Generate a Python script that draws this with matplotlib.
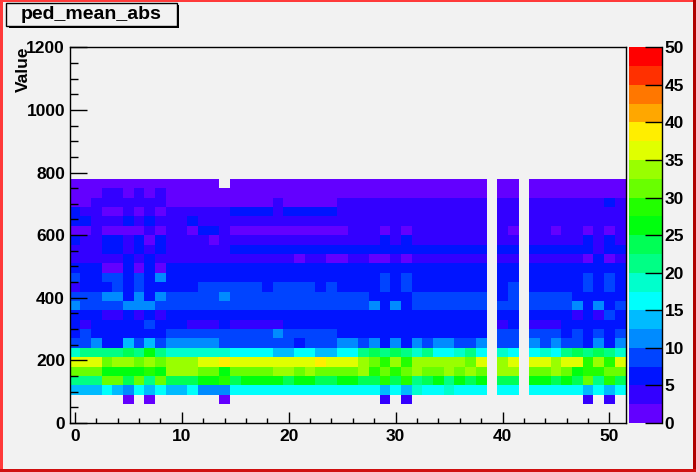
"""
ped_mean_abs: 2D histogram of value vs channel, drawn as a ROOT style COLZ plot
"""

import colorsys
import numpy as np
import matplotlib
matplotlib.use('Agg')
import matplotlib.pyplot as plt
from matplotlib.colors import ListedColormap, BoundaryNorm
from matplotlib.patches import Rectangle
from matplotlib.ticker import MultipleLocator

n = np.nan

# Bins: 52 channels (centred on 0..51), value bins of 30 from 0 to 1200
X_Edges = np.arange(-0.5, 52.0, 1.0)
Y_Edges = np.arange(0, 1230, 30)
Z_Levels = np.arange(0, 52.5, 2.5)

# Lower edge of each filled value row, top row first
Row_Low = list(range(750, 30, -30))

# Cell contents (one list per value row, channels 0..51)
Rows = [
	[1,1,1,1,1,1,1,1,1,1, 1,1,1,1,n,1,1,1,1,1, 1,1,1,1,1,1,1,1,1,1, 1,1,1,1,1,1,1,1,1,n, 1,1,n,1,1,1,1,1,1,1, 1,1],
	[1,1,1,4,4,1,4,1,4,1, 1,1,1,1,1,1,1,1,1,1, 1,1,1,1,1,1,1,1,1,1, 1,1,1,1,1,1,1,1,1,n, 1,1,n,1,1,1,1,1,1,1, 1,1],
	[1,1,4,4,4,4,4,4,4,1, 1,1,1,1,1,1,1,1,1,4, 1,1,1,1,1,4,4,4,4,4, 4,4,4,4,4,4,4,4,4,n, 4,4,n,4,4,4,4,4,4,4, 6,4],
	[6,4,4,1,1,4,1,4,1,4, 4,4,4,4,4,6,6,6,6,4, 6,6,6,6,6,4,4,4,4,4, 4,4,4,4,4,4,4,4,4,n, 4,4,n,4,4,4,4,4,4,4, 4,4],
	[6,6,4,4,4,6,4,6,4,4, 4,6,4,4,4,4,4,4,4,4, 4,4,4,4,4,4,4,4,4,4, 4,4,4,4,4,4,4,4,4,n, 4,4,n,4,4,4,4,4,4,4, 4,4],
	[1,1,4,1,1,1,1,4,1,4, 4,1,6,6,4,1,1,1,1,1, 1,1,1,1,1,1,4,4,4,1, 4,1,4,4,4,4,4,4,4,n, 4,1,n,4,4,1,4,4,1,4, 1,4],
	[6,4,4,6,6,4,6,1,6,4, 4,4,4,1,4,4,4,4,4,4, 4,4,4,4,4,4,4,4,4,6, 4,6,4,4,4,4,4,4,4,n, 4,4,n,4,4,4,4,4,6,4, 6,4],
	[4,4,4,6,6,4,6,4,6,4, 4,4,4,4,4,6,6,6,6,6, 6,6,6,6,6,6,6,6,6,6, 6,6,6,6,6,6,6,6,6,n, 6,6,n,6,6,6,6,6,6,4, 6,6],
	[4,4,4,4,4,6,4,6,4,4, 4,4,4,4,4,4,4,4,4,4, 4,1,4,4,1,1,4,4,1,1, 4,1,4,4,4,4,4,4,4,n, 4,4,n,4,4,4,4,4,1,6, 1,4],
	[6,6,6,1,1,6,1,6,1,6, 6,6,6,6,6,6,6,6,6,6, 6,6,6,6,6,6,6,6,6,6, 6,6,6,6,6,6,6,6,6,n, 6,6,n,6,6,6,6,6,6,6, 6,6],
	[9,6,6,9,9,6,9,6,11,6, 6,6,6,6,6,6,6,6,6,6, 6,6,6,6,6,6,6,6,6,9, 6,9,6,6,6,6,6,6,6,n, 6,6,n,6,6,6,6,6,9,6, 9,6],
	[4,6,6,6,9,6,9,6,6,6, 6,6,9,9,9,9,9,9,6,9, 9,9,9,6,9,6,6,6,6,9, 6,9,6,6,6,6,6,6,6,n, 6,9,n,6,6,6,6,6,9,6, 9,6],
	[9,9,9,11,11,6,11,6,11,9, 9,9,9,9,11,9,9,9,9,9, 9,9,9,9,9,9,9,9,6,6, 6,6,9,9,9,9,9,9,9,n, 6,9,n,9,9,9,9,6,6,6, 6,6],
	[11,9,9,9,9,11,11,11,9,9, 9,9,9,9,9,9,9,9,9,9, 9,9,9,9,9,9,9,9,11,6, 11,6,9,9,9,9,9,9,9,n, 9,9,n,9,9,9,9,11,6,11, 6,9],
	[6,6,6,4,4,6,4,6,4,6, 6,6,6,6,6,6,6,6,6,6, 6,6,6,6,6,6,6,6,6,6, 6,6,6,6,6,6,6,6,6,n, 6,6,n,6,6,6,6,4,6,4, 9,6],
	[6,4,6,6,6,6,6,9,6,6, 6,4,4,4,6,4,4,4,4,4, 6,6,6,6,6,6,6,6,6,6, 6,6,6,6,6,6,6,6,6,n, 4,6,n,4,4,4,6,6,6,6, 6,6],
	[6,9,6,6,6,6,6,6,6,9, 9,9,9,9,9,9,9,9,9,11, 9,9,9,9,9,6,6,6,6,6, 6,6,6,6,6,6,6,6,6,n, 9,9,n,9,9,9,6,9,6,9, 6,9],
	[9,9,11,6,6,14,9,14,9,11, 11,11,11,11,9,9,9,9,9,9, 9,6,9,9,9,11,11,9,11,6, 11,6,11,9,11,11,9,9,11,n, 9,9,n,11,9,11,9,9,6,11, 6,11],
	[19,21,21,21,21,24,21,26,21,19, 19,19,19,19,19,16,16,16,16,14, 14,16,16,14,14,16,16,21,24,21, 24,21,19,21,16,16,19,21,16,n, 19,16,n,16,19,16,21,24,21,24, 21,19],
	[36,36,36,31,34,34,31,34,31,34, 34,34,36,36,39,36,36,36,36,36, 36,36,36,39,36,36,36,34,31,29, 34,29,34,34,34,34,34,31,36,n, 34,36,n,36,36,34,36,36,29,34, 29,36],
	[31,31,31,26,26,26,26,29,26,34, 34,34,31,31,26,31,31,31,31,34, 34,31,34,31,31,31,31,34,29,31, 29,31,34,31,31,34,31,34,31,n, 34,34,n,31,31,34,31,26,29,29, 31,31],
	[21,21,21,31,31,24,31,21,31,24, 24,24,26,26,29,24,26,26,26,26, 24,26,26,24,24,26,26,24,24,29, 24,29,21,24,26,21,26,24,26,n, 24,24,n,26,26,24,26,24,31,21, 29,24],
	[14,14,14,16,14,11,16,14,16,14, 14,16,11,11,11,16,16,16,16,16, 16,16,16,16,16,16,16,16,16,14, 16,14,19,16,16,19,16,16,16,n, 16,16,n,16,16,16,16,16,14,16, 14,16],
	[n,n,n,n,n,1,n,1,n,n, n,n,n,n,1,n,n,n,n,n, n,n,n,n,n,n,n,n,n,4, n,4,n,n,n,n,n,n,n,n, n,n,n,n,n,n,n,n,4,n, 4,n],
]

Z_Ticks = [0, 5, 10, 15, 20, 25, 30, 35, 40, 45, 50]

W, H = 696, 472
BG = '#f2f2f2'

def Fig_Rect(x0, y0, x1, y1):

	# Pixel box (top-left origin) to figure fraction [left, bottom, width, height]
	return [x0 / W, 1 - y1 / H, (x1 - x0) / W, (y1 - y0) / H]

def Root_Palette(N_Levels):

	# ROOT "pretty" palette: 50 hues from violet to red, sampled per contour
	Colors = []
	for k in range(N_Levels):
		Idx = int((k + 0.99) * 50.0 / N_Levels)
		Hue = 280.0 - (Idx + 1) * 280.0 / 50.0
		Colors.append(colorsys.hls_to_rgb(Hue / 360.0, 0.5, 1.0))
	return ListedColormap(Colors)

plt.rcParams['font.family'] = ['Liberation Sans', 'DejaVu Sans']
plt.rcParams['font.weight'] = 'bold'

# Fill histogram
Z = np.full((len(Y_Edges) - 1, len(X_Edges) - 1), np.nan)
for y0, Row in zip(Row_Low, Rows):
	Z[int(y0 // 30)] = Row

Cmap = Root_Palette(len(Z_Levels) - 1)
Norm = BoundaryNorm(Z_Levels, Cmap.N)

fig = plt.figure(figsize=(W / 100, H / 100), dpi=100, facecolor=BG)

# Main frame
ax = fig.add_axes(Fig_Rect(69.5, 47.3, 625.5, 423), facecolor=BG)
ax.pcolormesh(X_Edges, Y_Edges, np.ma.masked_invalid(Z), cmap=Cmap, norm=Norm,
	edgecolors='none', antialiased=False)
ax.set_xlim(-0.5, 51.5)
ax.set_ylim(0, 1200)
ax.xaxis.set_major_locator(MultipleLocator(10))
ax.xaxis.set_minor_locator(MultipleLocator(2))
ax.yaxis.set_major_locator(MultipleLocator(200))
ax.yaxis.set_minor_locator(MultipleLocator(50))
ax.tick_params(axis='both', which='both', direction='in', top=False, right=False,
	width=1, labelsize=12.5, colors='k')
ax.tick_params(axis='y', which='major', length=12, pad=3.2)
ax.tick_params(axis='y', which='minor', length=6)
ax.tick_params(axis='x', which='major', length=8, pad=4.5)
ax.tick_params(axis='x', which='minor', length=3.3)
for Spine in ax.spines.values():
	Spine.set_linewidth(1)
for Label in ax.get_xticklabels() + ax.get_yticklabels():
	Label.set_fontweight('bold')

# Palette axis
cax = fig.add_axes(Fig_Rect(629, 47.3, 661.5, 423), facecolor=BG)
cax.pcolormesh([0, 1], Z_Levels, (Z_Levels[:-1] + 1.25).reshape(-1, 1), cmap=Cmap, norm=Norm,
	edgecolors='none', antialiased=False)
cax.set_xlim(0, 1)
cax.set_ylim(0, 50)
cax.set_xticks([])
cax.yaxis.tick_right()
cax.set_yticks(Z_Ticks)
cax.tick_params(axis='y', direction='in', length=12, width=1, pad=2.2, labelsize=12.5)
for Side in ['left', 'top', 'bottom']:
	cax.spines[Side].set_visible(False)
cax.spines['right'].set_linewidth(1)
for Label in cax.get_yticklabels():
	Label.set_fontweight('bold')

# Axis title
fig.text(23.5 / W, 1 - 46 / H, 'Value', rotation=90, ha='center', va='top',
	fontsize=12.5, fontweight='bold')

# Title pave with shadow
fig.patches.append(Rectangle((9 / W, 1 - 28 / H), 170 / W, 23 / H, transform=fig.transFigure,
	facecolor='k', edgecolor='none'))
fig.patches.append(Rectangle((6 / W, 1 - 25.5 / H), 170.5 / W, 23 / H, transform=fig.transFigure,
	facecolor=BG, edgecolor='k', linewidth=1))
fig.text(91.5 / W, 1 - 14.5 / H, 'ped_mean_abs', ha='center', va='center',
	fontsize=14, fontweight='bold')

# Canvas border (bevel: light top/left, dark bottom/right)
for (x0, y0, x1, y1, Col) in [(0, 0, 3, H, '#ff3a3a'), (0, 0, W, 2, '#ff3a3a'),
		(W - 3, 0, W, H, '#b00000'), (0, H - 3, W, H, '#d01010')]:
	fig.patches.append(Rectangle((x0 / W, 1 - y1 / H), (x1 - x0) / W, (y1 - y0) / H,
		transform=fig.transFigure, facecolor=Col, edgecolor='none'))

fig.savefig('out.png', dpi=100, facecolor=BG)
plt.close('all')
